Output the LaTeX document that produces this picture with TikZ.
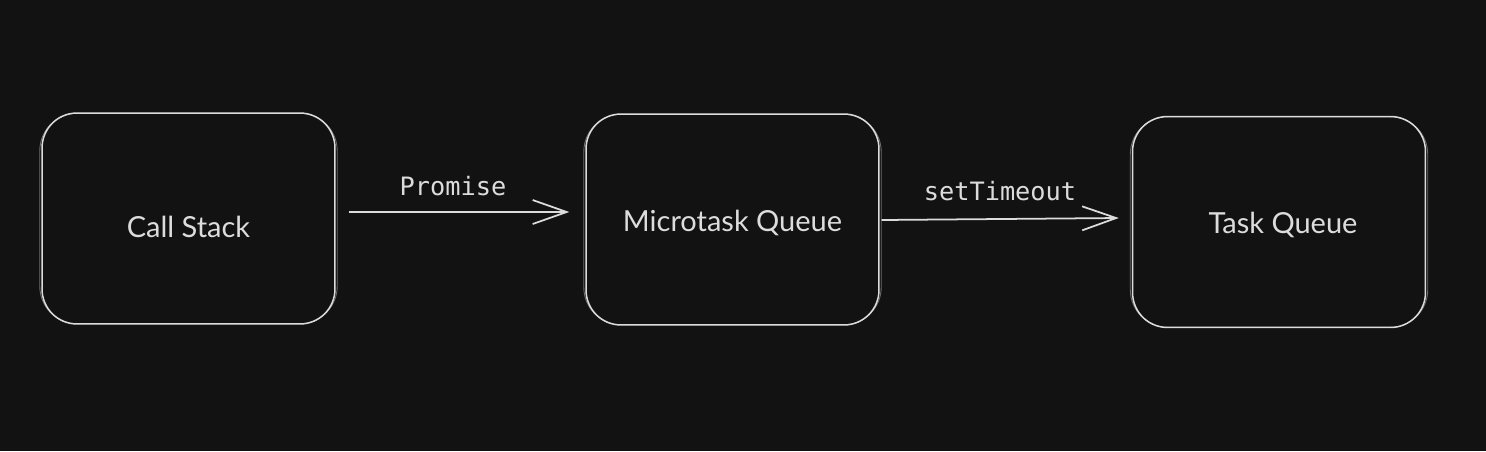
\documentclass[tikz,border=0pt]{standalone}
\usepackage{fontspec}
\setmainfont{Lato}
\setmonofont{DejaVu Sans Mono}
\usetikzlibrary{arrows.meta}
\definecolor{canvas}{HTML}{121212}
\definecolor{chalk}{HTML}{DCDCDC}

\begin{document}
\begin{tikzpicture}[x=0.02cm, y=-0.02cm, line width=0.85pt,
		queuebox/.style={draw=chalk, rounded corners=0.7cm, minimum width=5.86cm, minimum height=4.22cm, text=chalk, text height=0.46cm, text depth=0pt, font=\fontsize{16.5}{20}\selectfont},
		sketchline/.style={draw=chalk, opacity=0.45, line width=0.5pt, rounded corners=0.75cm},
		flowarrow/.style={draw=chalk, line width=1pt, -{Straight Barb[length=0.68cm, width=0.48cm]}},
		apilabel/.style={text=chalk, font=\ttfamily\fontsize{14.4}{17}\selectfont}]
		\fill[canvas] (0, 0) rectangle (1486, 451);
		\useasboundingbox (0, 0) rectangle (1486, 451);

		\draw (188.5, 218.5) node[queuebox, text height=0.74cm] (call) {Call Stack};
		\draw (732.5, 219.5) node[queuebox] (micro) {Microtask Queue};
		\draw (1279, 222) node[queuebox] (task) {\hspace{0.16cm}Task Queue};

		% second stroke for the hand-drawn look
		\foreach \b in {call, micro, task}
			\draw[sketchline] ([shift={(-1.5, 1)}]\b.north west) rectangle ([shift={(1.5, -1)}]\b.south east);

		\draw[flowarrow] ([shift={(13, -6.5)}]call.east) -- ([shift={(-16, -7.5)}]micro.west);
		\draw[flowarrow] ([shift={(2, 0.5)}]micro.east) -- ([shift={(-13, -4)}]task.west);

		\draw (453, 186) node[apilabel] (promise) {Promise};
		\draw (1000, 191) node[apilabel] (timeout) {setTimeout};
\end{tikzpicture}
\end{document}
